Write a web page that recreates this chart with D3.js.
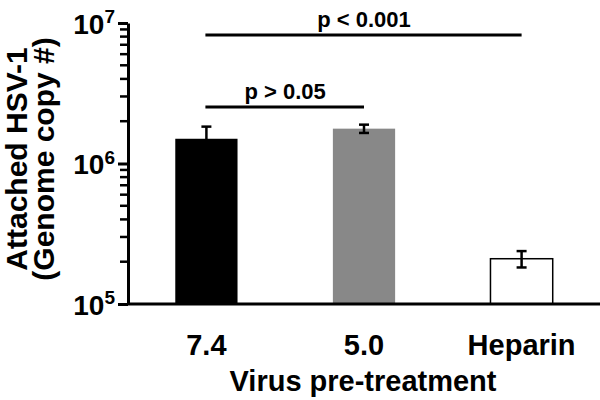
<!DOCTYPE html>
<html>
<head>
<meta charset="utf-8">
<script src="https://cdn.jsdelivr.net/npm/d3@7"></script>
<style>
  body { margin: 0; background: #fff; }
  text { font-family: "Liberation Sans", Arial, sans-serif; font-weight: bold; }
</style>
</head>
<body>
<svg width="600" height="400"></svg>
<script>
const width = 600;
const height = 400;

// data
const categories = ["7.4", "5.0", "Heparin"];
const means = [1.50e6, 1.77e6, 2.10e5];
const errors = [0.33e6, 0.12e6, 0.28e5];
const fills = ["#000", "#888", "#fff"];

const comparisons = [
  { from: "7.4", to: "Heparin", label: "p < 0.001", level: 0 },
  { from: "7.4", to: "5.0", label: "p > 0.05", level: 1 }
];

const majorTicks = [1e5, 1e6, 1e7];
const minorTicks = [];
[1e5, 1e6].forEach(d => {
  for (let k = 2; k <= 9; k++) minorTicks.push(d * k);
});

const svg = d3.select("svg");

const x = d3
  .scaleBand()
  .domain(categories)
  .range([128, 600])
  .paddingInner(0.605)
  .paddingOuter(0.3);

const y = d3.scaleLog().domain([1e5, 1e7]).range([304, 23]);

const cx = d => x(d) + x.bandwidth() / 2;

// bars
svg
  .append("g")
  .selectAll("rect")
  .data(categories)
  .join("rect")
  .attr("x", d => x(d))
  .attr("width", x.bandwidth())
  .attr("y", (d, i) => y(means[i]))
  .attr("height", (d, i) => y(1e5) - y(means[i]))
  .attr("fill", (d, i) => fills[i])
  .attr("stroke", "#000")
  .attr("stroke-width", (d, i) => (i === 2 ? 1.5 : 0));

// error bars
const err = svg
  .append("g")
  .attr("stroke", "#000")
  .attr("stroke-width", 2.5)
  .selectAll("g")
  .data(categories)
  .join("g")
  .attr("transform", d => `translate(${cx(d)},0)`);

err
  .append("line")
  .attr("y1", (d, i) => y(means[i] - errors[i]))
  .attr("y2", (d, i) => y(means[i] + errors[i]));
err
  .append("line")
  .attr("x1", -5)
  .attr("x2", 5)
  .attr("y1", (d, i) => y(means[i] + errors[i]))
  .attr("y2", (d, i) => y(means[i] + errors[i]));
err
  .filter((d, i) => i > 0)
  .append("line")
  .attr("x1", -5)
  .attr("x2", 5)
  .attr("y1", (d, i) => y(means[i + 1] - errors[i + 1]))
  .attr("y2", (d, i) => y(means[i + 1] - errors[i + 1]));

// y axis
const yAxis = svg
  .append("g")
  .attr("transform", "translate(128,0)")
  .call(d3.axisLeft(y).tickValues(majorTicks).tickSize(10).tickSizeOuter(0).tickFormat(""));
yAxis.select(".domain").attr("stroke-width", 3);
yAxis.selectAll(".tick line").attr("stroke-width", 3).attr("stroke", "#000");

// minor log ticks
svg
  .append("g")
  .selectAll("line")
  .data(minorTicks)
  .join("line")
  .attr("x1", 120)
  .attr("x2", 128)
  .attr("y1", d => y(d))
  .attr("y2", d => y(d))
  .attr("stroke", "#000")
  .attr("stroke-width", 2.5);

yAxis
  .selectAll(".tick")
  .append("text")
  .attr("fill", "#000")
  .attr("x", -13)
  .attr("dy", "0.36em")
  .attr("text-anchor", "end")
  .style("font-size", "28px")
  .each(function (d) {
    const t = d3.select(this);
    t.append("tspan").text("10");
    t.append("tspan")
      .attr("dy", "-0.55em")
      .style("font-size", "19px")
      .text(Math.round(Math.log10(d)));
  });

// baseline
svg
  .append("line")
  .attr("x1", 127)
  .attr("x2", 600)
  .attr("y1", y(1e5))
  .attr("y2", y(1e5))
  .attr("stroke", "#000")
  .attr("stroke-width", 3);

// category labels
svg
  .append("g")
  .selectAll("text")
  .data(categories)
  .join("text")
  .attr("x", cx)
  .attr("y", 355)
  .attr("text-anchor", "middle")
  .style("font-size", "29px")
  .text(d => d);

svg
  .append("text")
  .attr("x", 363)
  .attr("y", 391)
  .attr("text-anchor", "middle")
  .style("font-size", "29px")
  .text("Virus pre-treatment");

// y title
const title = svg
  .append("text")
  .attr("transform", "translate(27,159) rotate(-90)")
  .attr("text-anchor", "middle")
  .style("font-size", "30px");
title.append("tspan").attr("x", 0).attr("y", 0).text("Attached HSV-1");
title.append("tspan").attr("x", 0).attr("y", 27).text("(Genome copy #)");

// significance brackets
const levelY = [35, 107];
const sig = svg.append("g").selectAll("g").data(comparisons).join("g");
sig
  .append("line")
  .attr("x1", d => cx(d.from) - 1)
  .attr("x2", d => cx(d.to))
  .attr("y1", d => levelY[d.level])
  .attr("y2", d => levelY[d.level])
  .attr("stroke", "#000")
  .attr("stroke-width", 3);
sig
  .append("text")
  .attr("x", d => (cx(d.from) + cx(d.to)) / 2)
  .attr("y", d => levelY[d.level] - 8)
  .attr("text-anchor", "middle")
  .style("font-size", "22px")
  .text(d => d.label);
</script>
</body>
</html>
